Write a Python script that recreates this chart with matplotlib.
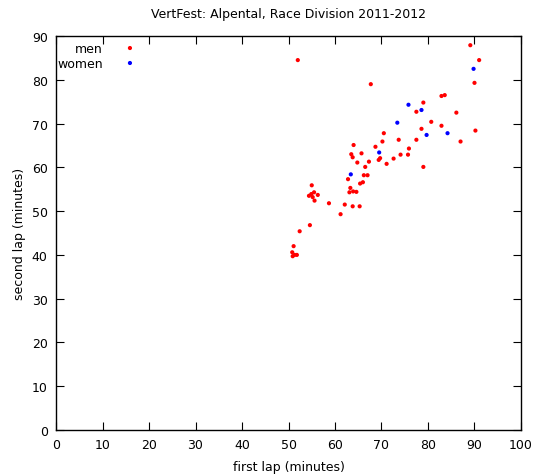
import matplotlib
matplotlib.use("Agg")
import matplotlib.pyplot as plt

men_first = [50.8, 51.3, 51.8, 50.9, 51.1, 52.4, 54.6,
             55.0, 54.4, 54.9, 55.5, 56.3, 55.2, 55.6, 58.7, 62.1, 63.8, 65.3, 61.2,
             62.8, 66.2, 67.0, 65.4, 66.0, 63.3, 63.1, 63.9, 64.6,
             64.0, 68.7, 63.5, 63.8, 65.7, 69.7, 69.4, 64.8, 67.3, 66.5, 70.5, 70.2,
             73.7, 77.5, 87.0, 75.9, 75.7, 74.1, 72.6, 71.1, 79.0,
             89.1, 91.0, 90.0, 82.9, 83.6, 79.0, 77.5, 86.1, 80.7, 82.9, 78.6, 90.2,
             52.0, 67.7]
men_second = [40.6, 40.0, 40.0, 39.7, 42.0, 45.4, 46.8,
              55.9, 53.5, 53.9, 54.3, 53.7, 53.2, 52.4, 51.8, 51.5, 51.1, 51.1, 49.3,
              57.3, 58.2, 58.2, 56.3, 56.6, 55.3, 54.3, 54.5, 54.4,
              65.1, 64.7, 63.0, 62.3, 63.2, 62.1, 61.7, 61.1, 61.3, 60.1, 67.8, 65.9,
              66.3, 66.3, 65.9, 64.3, 62.9, 62.9, 62.0, 60.8, 60.1,
              87.9, 84.5, 79.3, 76.3, 76.5, 74.8, 72.7, 72.5, 70.4, 69.5, 68.8, 68.4,
              84.5, 79.0]

women_first = [63.4, 69.5, 73.4, 75.8, 78.6, 79.7, 84.2, 89.8]
women_second = [58.4, 63.4, 70.2, 74.3, 73.1, 67.4, 67.8, 82.5]

x_ticks = list(range(0, 101, 10))
y_ticks = list(range(0, 91, 10))

plt.rcParams['font.family'] = ['DejaVu Sans']
fig = plt.figure(figsize=(5.36, 4.77), dpi=100)
ax = fig.add_axes([0.1045, 0.0964, 0.8675, 0.826])

red = '#ff0000'
blue = '#0000ff'
ax.scatter(men_first, men_second, s=9, color=red, edgecolors='none', zorder=3)
ax.scatter(women_first, women_second, s=9, color=blue, edgecolors='none', zorder=3)

ax.set_xlim(0, 100)
ax.set_ylim(0, 90)
ax.set_xticks(x_ticks)
ax.set_yticks(y_ticks)
ax.tick_params(direction='in', length=6, width=0.8, top=True, right=True,
               labelsize=9, pad=6, colors='black')
for sp in ax.spines.values():
    sp.set_linewidth(1.0)

ax.set_xlabel('first lap (minutes)', fontsize=9, labelpad=6)
ax.set_ylabel('second lap (minutes)', fontsize=9, labelpad=4)
ax.set_title('VertFest: Alpental, Race Division 2011-2012', fontsize=9, pad=14)

# gnuplot-style key
ax.text(0.101, 0.9695, 'men', transform=ax.transAxes, ha='right', va='center', fontsize=9)
ax.text(0.101, 0.9315, 'women', transform=ax.transAxes, ha='right', va='center', fontsize=9)
ax.scatter([0.159], [0.9695], s=9, color=red, edgecolors='none', transform=ax.transAxes, clip_on=False)
ax.scatter([0.159], [0.9315], s=9, color=blue, edgecolors='none', transform=ax.transAxes, clip_on=False)

fig.savefig('out.png', dpi=100)
